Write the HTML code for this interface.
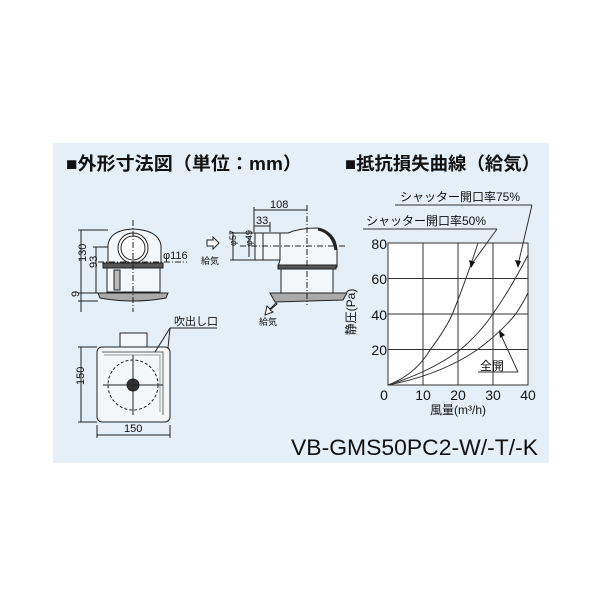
<!DOCTYPE html>
<html><head><meta charset="utf-8"><style>
html,body{margin:0;padding:0;background:#fff;}
svg{display:block;}
text{font-family:"Liberation Sans","Noto Sans CJK JP",sans-serif;fill:#111;}
</style></head><body>
<svg width="600" height="600" viewBox="0 0 600 600" xmlns="http://www.w3.org/2000/svg">
<rect x="53" y="143" width="496" height="320" fill="#e4eff8"/>
<text x="66" y="170" font-size="18" font-weight="bold" textLength="236" lengthAdjust="spacingAndGlyphs">■外形寸法図（単位：mm）</text>
<text x="345" y="170" font-size="18" font-weight="bold" textLength="195" lengthAdjust="spacingAndGlyphs">■抵抗損失曲線（給気）</text>
<text x="291" y="455" font-size="22" textLength="247" lengthAdjust="spacingAndGlyphs">VB-GMS50PC2-W/-T/-K</text>

<g stroke="#222" fill="none" stroke-width="1">
<path d="M108 263 L108 245 Q110 230 133 229 Q158 230 161 245 L161 263" fill="#f4f7fa"/>
<circle cx="133" cy="248" r="15" fill="#fff"/>
<circle cx="133" cy="248" r="12"/>
<rect x="103" y="263" width="60" height="5" fill="#555"/>
<rect x="107" y="268" width="53" height="24" fill="#f4f7fa"/>
<rect x="114" y="270" width="6" height="20" fill="#bbb"/>
<path d="M98 293 L168 293 L166 298 Q150 301 133 301 Q116 301 100 298 Z" fill="#aaa"/>
<line x1="133" y1="220" x2="133" y2="312" stroke-dasharray="6 2 1 2"/>
<line x1="98" y1="262" x2="187" y2="262" stroke-dasharray="6 2 1 2"/>
<line x1="81" y1="230" x2="81" y2="293"/><line x1="78" y1="230" x2="108" y2="230"/>
<line x1="96" y1="247" x2="96" y2="293"/><line x1="93" y1="247" x2="108" y2="247"/>
<line x1="78" y1="293" x2="98" y2="293"/><line x1="78" y1="301" x2="98" y2="301"/>
<line x1="81" y1="293" x2="81" y2="312"/>
<rect x="255" y="233" width="25" height="27" fill="#f4f7fa"/>
<line x1="263" y1="233" x2="263" y2="260"/>
<path d="M280 233 L288 233 Q300 228 317 228 Q336 232 337 250 L337 267 L278 267 L280 260 Z" fill="#f4f7fa"/>
<path d="M318 229 Q333 232 336 250" stroke-width="3"/>
<rect x="278" y="265" width="58" height="4" fill="#555"/>
<rect x="281" y="269" width="52" height="24" fill="#f4f7fa"/>
<path d="M270 293 L347 293 L343 300 L275 302 Z" fill="#aaa"/>
<line x1="307" y1="205" x2="307" y2="305" stroke-dasharray="6 2 1 2"/>
<line x1="240" y1="246" x2="345" y2="246" stroke-dasharray="6 2 1 2"/>
<line x1="254" y1="207" x2="254" y2="232"/><line x1="254" y1="210" x2="307" y2="210"/>
<line x1="270" y1="222" x2="270" y2="232"/><line x1="254" y1="226" x2="270" y2="226"/>
<line x1="233" y1="233" x2="233" y2="260"/><line x1="230" y1="233" x2="255" y2="233"/><line x1="230" y1="260" x2="255" y2="260"/>
<line x1="249" y1="236" x2="249" y2="257"/>
<path d="M207 240 L213 240 L213 237 L219 243 L213 249 L213 246 L207 246 Z" fill="#fff"/>
<path d="M276 303 L270 309 L267 306 L265 315 L273 312 L270 310 L277 304 Z" fill="#fff"/>
<rect x="120" y="333" width="27" height="15" fill="#f4f7fa"/>
<rect x="97" y="347" width="73" height="75" rx="5" fill="#f4f7fa"/>
<path d="M102 352 L163 352 L163 415" stroke="#666"/>
<path d="M104 355 L160 355 L160 412" stroke="#999"/>
<circle cx="133" cy="385" r="25" stroke-dasharray="3 2"/>
<circle cx="133" cy="385" r="6" fill="#333"/>
<line x1="103" y1="385" x2="163" y2="385"/><line x1="133" y1="355" x2="133" y2="415"/>
<line x1="81" y1="347" x2="81" y2="422"/><line x1="78" y1="347" x2="97" y2="347"/><line x1="78" y1="422" x2="97" y2="422"/>
<line x1="97" y1="435" x2="170" y2="435"/><line x1="97" y1="425" x2="97" y2="438"/><line x1="170" y1="425" x2="170" y2="438"/>
<line x1="170" y1="328" x2="217" y2="328"/><line x1="170" y1="328" x2="155" y2="352"/><line x1="170" y1="328" x2="168" y2="348"/>
</g>
<g font-size="11">
<text x="76" y="272" transform="rotate(-90 76 262)">130</text>
<text x="91" y="274" transform="rotate(-90 91 268)">93</text>
<text x="76" y="300" transform="rotate(-90 76 297)">9</text>
<text x="163" y="259">φ116</text>
<text x="270" y="208">108</text>
<text x="256" y="224">33</text>
<text x="230" y="252" font-size="9" transform="rotate(-90 230 246)">φ57</text>
<text x="246" y="252" font-size="9" transform="rotate(-90 246 246)">φ49</text>
<text x="201" y="264" font-size="9">給気</text>
<text x="259" y="325" font-size="9">給気</text>
<text x="174" y="325">吹出し口</text>
<text x="74" y="395" transform="rotate(-90 74 385)">150</text>
<text x="124" y="432">150</text>
</g>

<g stroke="#333" stroke-width="1" fill="none">
<rect x="388" y="243" width="140" height="142" fill="#fff"/>
<line x1="423" y1="243" x2="423" y2="385"/><line x1="458" y1="243" x2="458" y2="385"/><line x1="493" y1="243" x2="493" y2="385"/>
<line x1="388" y1="278.5" x2="528" y2="278.5"/><line x1="388" y1="314" x2="528" y2="314"/><line x1="388" y1="349.5" x2="528" y2="349.5"/>
<path d="M388 385 Q415 375 430 350 Q445 330 452 315 Q465 283 478 243"/>
<path d="M388 385 Q430 372 460 350 Q480 333 492 315 Q510 290 528 255"/>
<path d="M388 385 Q440 375 477 350 Q500 333 515 315 Q522 305 528 293"/>
<line x1="395" y1="205" x2="532" y2="205"/><line x1="532" y1="205" x2="518" y2="265"/>
<line x1="363" y1="229" x2="497" y2="229"/><line x1="497" y1="229" x2="471" y2="265"/>
<line x1="478" y1="372" x2="518" y2="372"/><line x1="518" y1="372" x2="500" y2="333"/>
</g>
<path d="M518 268 L515 260 L521 261 Z M471 268 L469 260 L475 262 Z M499 330 L500 338 L505 335 Z" fill="#111"/>
<g font-size="12">
<text x="400" y="201">シャッター開口率75%</text>
<text x="366" y="225">シャッター開口率50%</text>
<text x="480" y="370">全開</text>
<g font-size="14" text-anchor="end">
<text x="387" y="249">80</text><text x="387" y="284">60</text><text x="387" y="320">40</text><text x="387" y="355">20</text>
</g>
<g font-size="14" text-anchor="middle">
<text x="384" y="400">0</text><text x="423" y="400">10</text><text x="458" y="400">20</text><text x="493" y="400">30</text><text x="528" y="400">40</text>
</g>
<text x="458" y="414" text-anchor="middle">風量(m³/h)</text>
<text x="355" y="312" text-anchor="middle" transform="rotate(-90 355 312)">静圧(Pa)</text>
</g>
</svg>
</body></html>
